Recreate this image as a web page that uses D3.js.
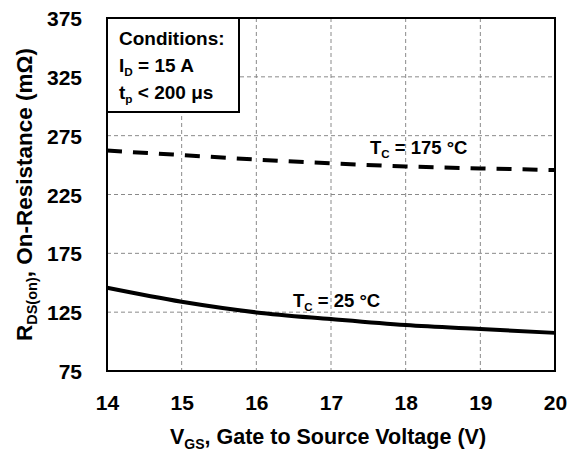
<!DOCTYPE html>
<html>
<head>
<meta charset="utf-8">
<script src="https://cdn.jsdelivr.net/npm/d3@7/dist/d3.min.js"></script>
<style>
  html, body { margin: 0; padding: 0; background: #fff; }
  svg { display: block; font-family: "Liberation Sans", Arial, sans-serif; font-weight: bold; }
</style>
</head>
<body>
<svg id="chart" width="577" height="452"></svg>
<script>
// Gate voltage sweep (V)
const vgs = [14, 15, 16, 17, 18, 19, 20];
// On-resistance (mΩ) at each gate voltage
const rds25 = [145.7, 133.8, 124.8, 119.1, 114.0, 110.6, 107.4];
const rds175 = [262.3, 258.5, 254.7, 251.5, 248.9, 247.2, 245.8];
// Axis ticks
const xTicks = [14, 15, 16, 17, 18, 19, 20];
const yTicks = [75, 125, 175, 225, 275, 325, 375];

const svg = d3.select("#chart");
const m = { left: 107, right: 555, top: 18, bottom: 371 };

const x = d3.scaleLinear().domain([14, 20]).range([m.left, m.right]);
const y = d3.scaleLinear().domain([75, 375]).range([m.bottom, m.top]);

// Dashed grid
const grid = svg.append("g")
  .attr("stroke", "#8a8a8a").attr("stroke-width", 1).attr("stroke-dasharray", "4,3");
grid.selectAll("line.v").data(xTicks.slice(1, -1)).join("line")
  .attr("x1", d => x(d)).attr("x2", d => x(d))
  .attr("y1", m.top).attr("y2", m.bottom);
grid.selectAll("line.h").data(yTicks.slice(1, -1)).join("line")
  .attr("x1", m.left).attr("x2", m.right)
  .attr("y1", d => y(d)).attr("y2", d => y(d));

// Axes: labels only, frame drawn separately
const xAxis = svg.append("g")
  .attr("transform", `translate(0,${m.bottom})`)
  .call(d3.axisBottom(x).tickValues(xTicks).tickSize(0).tickPadding(24).tickFormat(d3.format("d")));
const yAxis = svg.append("g")
  .attr("transform", `translate(${m.left},0)`)
  .call(d3.axisLeft(y).tickValues(yTicks).tickSize(0).tickPadding(25).tickFormat(d3.format("d")));
[xAxis, yAxis].forEach(a => {
  a.select(".domain").remove();
  a.selectAll("text")
    .attr("font-family", "Liberation Sans, Arial, sans-serif")
    .attr("font-weight", "bold").attr("font-size", 21).attr("fill", "#000");
});
yAxis.selectAll("text").attr("dy", "0.36em");

// Curves
const line = d3.line().x((d, i) => x(vgs[i])).y(d => y(d)).curve(d3.curveMonotoneX);

svg.append("path").datum(rds25)
  .attr("d", line).attr("fill", "none")
  .attr("stroke", "#000").attr("stroke-width", 4);

svg.append("path").datum(rds175)
  .attr("d", line).attr("fill", "none")
  .attr("stroke", "#000").attr("stroke-width", 4)
  .attr("stroke-dasharray", "15,11");

// Plot frame
svg.append("rect")
  .attr("x", m.left).attr("y", m.top)
  .attr("width", m.right - m.left).attr("height", m.bottom - m.top)
  .attr("fill", "none").attr("stroke", "#000").attr("stroke-width", 2);

// Helper for text with a subscript
function subText(g, xPos, yPos, main, sub, rest, size) {
  const t = g.append("text").attr("x", xPos).attr("y", yPos)
    .attr("font-size", size).attr("fill", "#000");
  t.append("tspan").text(main);
  t.append("tspan").attr("font-size", size * 0.62).attr("dy", size * 0.22).text(sub);
  t.append("tspan").attr("dy", -size * 0.22).text(rest);
  return t;
}

// Curve labels
subText(svg, 370, 154, "T", "C", " = 175 °C", 18.5);
subText(svg, 293, 307, "T", "C", " = 25 °C", 18.5);

// Conditions box
svg.append("rect")
  .attr("x", m.left).attr("y", m.top)
  .attr("width", 132).attr("height", 94)
  .attr("fill", "#fff").attr("stroke", "#000").attr("stroke-width", 2);
svg.append("text").attr("x", 119).attr("y", 45).attr("font-size", 19).text("Conditions:");
subText(svg, 119, 72, "I", "D", " = 15 A", 19);
subText(svg, 119, 99, "t", "p", " < 200 μs", 19);

// Axis titles
const xt = svg.append("text").attr("x", 328).attr("y", 444)
  .attr("text-anchor", "middle").attr("font-size", 21.5).attr("fill", "#000");
xt.append("tspan").text("V");
xt.append("tspan").attr("font-size", 14).attr("dy", 5).text("GS");
xt.append("tspan").attr("dy", -5).text(", Gate to Source Voltage (V)");

const yt = svg.append("text")
  .attr("transform", `translate(32,${(m.top + m.bottom) / 2}) rotate(-90)`)
  .attr("text-anchor", "middle").attr("font-size", 22.5).attr("fill", "#000");
yt.append("tspan").text("R");
yt.append("tspan").attr("font-size", 14.5).attr("dy", 5).text("DS(on)");
yt.append("tspan").attr("dy", -5).text(", On-Resistance (mΩ)");
</script>
</body>
</html>
